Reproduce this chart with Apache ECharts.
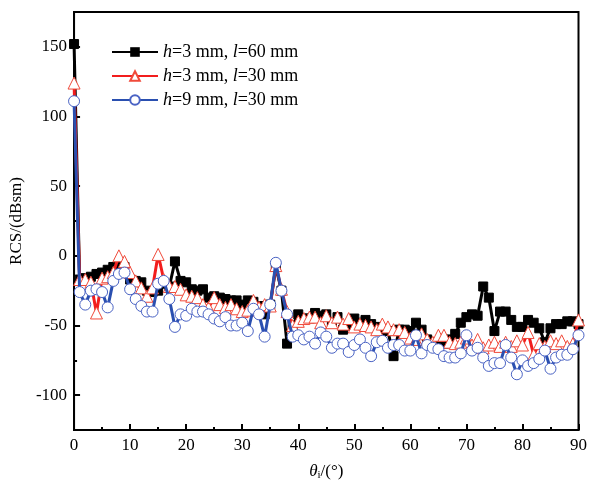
<!DOCTYPE html>
<html><head><meta charset="utf-8">
<script src="https://cdn.jsdelivr.net/npm/echarts@6/dist/echarts.min.js"></script>
<style>html,body{margin:0;padding:0;background:#fff}#c{width:590px;height:487px}</style>
</head><body><div id="c"></div>
<script>
const angles = Array.from({length: 91}, (_, i) => i);
const seriesNames = ['h=3 mm, l=60 mm', 'h=3 mm, l=30 mm', 'h=9 mm, l=30 mm'];
const legendRich = ['{i|h}=3 mm, {i|l}=60 mm', '{i|h}=3 mm, {i|l}=30 mm', '{i|h}=9 mm, {i|l}=30 mm'];
const rcsH3L60 = [152,-17,-16,-15,-13,-12,-10,-8,-6,-8,
  -17,-18,-19,-25,-26,-25,-20,-22,-4,-18,
  -19,-24,-25,-24,-30,-29,-30,-31,-32,-32,
  -35,-32,-33,-36,-42,-35,-8,-25,-63,-50,
  -42,-45,-45,-41,-43,-42,-48,-44,-53,-50,
  -45,-48,-46,-49,-51,-53,-54,-72,-53,-53,
  -54,-48,-53,-60,-62,-63,-63,-60,-56,-48,
  -44,-42,-43,-22,-30,-54,-40,-40,-46,-51,
  -51,-46,-48,-52,-62,-52,-49,-49,-47,-47,-49];
const rcsH3L30 = [124,-17,-17,-19,-41,-16,-15,-12,0,-4,
  -12,-18,-23,-29,-23,1,-17,-22,-22,-24,
  -28,-29,-30,-35,-37,-30,-35,-37,-35,-38,
  -40,-39,-32,-37,-35,-36,-7,-24,-40,-50,
  -47,-45,-44,-44,-48,-43,-48,-44,-49,-45,
  -51,-49,-50,-51,-53,-49,-51,-53,-53,-55,
  -59,-60,-56,-60,-62,-57,-57,-62,-63,-62,
  -59,-64,-60,-66,-64,-62,-65,-62,-65,-61,
  -64,-55,-71,-63,-65,-61,-63,-61,-65,-63,-46];
const rcsH9L30 = [111,-26,-35,-25,-24,-26,-37,-18,-13,-12,
  -24,-31,-36,-40,-40,-20,-18,-31,-51,-42,
  -43,-38,-40,-40,-42,-45,-47,-44,-50,-50,
  -48,-54,-38,-42,-58,-35,-5,-25,-42,-58,
  -57,-60,-58,-63,-55,-58,-66,-63,-63,-69,
  -64,-60,-66,-72,-62,-61,-66,-64,-64,-68,
  -68,-57,-70,-64,-66,-67,-72,-73,-73,-70,
  -57,-68,-66,-73,-79,-77,-77,-64,-73,-85,
  -75,-79,-77,-74,-68,-81,-73,-71,-71,-67,-57];
const yMajorTicks = [-100,-50,0,50,100,150];
const yMinorTicks = [-75,-25,25,75,125];

const FONT = '"Liberation Serif", "Times New Roman", serif';
const chart = echarts.init(document.getElementById('c'));
const mk = (arr) => arr.map((v, i) => [angles[i], v]);
chart.setOption({
  animation: false,
  backgroundColor: '#fff',
  grid: {left: 70, right: 8, top: 12, bottom: 57, show: true, borderColor: '#000', borderWidth: 2},
  legend: {
    orient: 'vertical', left: 106, top: 38, itemWidth: 46, itemHeight: 12, itemGap: 6,
    data: seriesNames,
    formatter: (n) => legendRich[seriesNames.indexOf(n)],
    textStyle: {fontFamily: FONT, fontSize: 18, color: '#000',
      rich: {i: {fontFamily: FONT, fontStyle: 'italic', fontSize: 18, color: '#000'}}}
  },
  xAxis: [{
    type: 'value', min: 0, max: 90, interval: 10,
    axisLine: {show: true, onZero: false, lineStyle: {color: '#000', width: 2}},
    axisTick: {show: true, inside: true, length: 6, lineStyle: {color: '#000', width: 2}},
    minorTick: {show: true, splitNumber: 2, length: 3, lineStyle: {color: '#000', width: 2}},
    splitLine: {show: false},
    axisLabel: {fontFamily: FONT, fontSize: 17, color: '#000', margin: 7},
    name: '{t|θ}{s|i}/(°)', nameLocation: 'middle', nameGap: 32,
    nameTextStyle: {fontFamily: FONT, fontSize: 17, color: '#000',
      rich: {t: {fontFamily: FONT, fontStyle: 'italic', fontSize: 17, color: '#000'},
             s: {fontFamily: FONT, fontSize: 11, color: '#000', verticalAlign: 'bottom', padding: [8,0,0,0]}}}
  }],
  yAxis: [{
    type: 'value', min: -125, max: 175, interval: 25,
    axisLine: {show: true, onZero: false, lineStyle: {color: '#000', width: 2}},
    axisTick: {show: true, inside: true, length: 6, customValues: yMajorTicks, lineStyle: {color: '#000', width: 2}},
    splitLine: {show: false},
    axisLabel: {fontFamily: FONT, fontSize: 17, color: '#000', margin: 7, customValues: yMajorTicks},
    name: 'RCS/(dBsm)', nameLocation: 'middle', nameGap: 36,
    nameTextStyle: {fontFamily: FONT, fontSize: 17, color: '#000'}
  }, {
    type: 'value', min: -125, max: 175, position: 'left',
    axisLine: {show: false, onZero: false},
    axisTick: {show: true, inside: true, length: 3, customValues: yMinorTicks, lineStyle: {color: '#000', width: 2}},
    axisLabel: {show: false}, splitLine: {show: false}
  }],
  series: [
    {name: seriesNames[0], type: 'line', data: mk(rcsH3L60), symbol: 'rect', symbolSize: 9,
     lineStyle: {color: '#000', width: 3}, itemStyle: {color: '#000', borderColor: '#000'}, z: 2},
    {name: seriesNames[1], type: 'line', data: mk(rcsH3L30), symbol: 'triangle', symbolSize: 12,
     lineStyle: {color: '#f21d1d', width: 3}, itemStyle: {color: '#fff', borderColor: '#f04a3a', borderWidth: 1}, z: 3},
    {name: seriesNames[2], type: 'line', data: mk(rcsH9L30), symbol: 'circle', symbolSize: 11,
     lineStyle: {color: '#2a4fb0', width: 3}, itemStyle: {color: '#fff', borderColor: '#4a63c4', borderWidth: 1}, z: 4}
  ]
});
</script></body></html>
